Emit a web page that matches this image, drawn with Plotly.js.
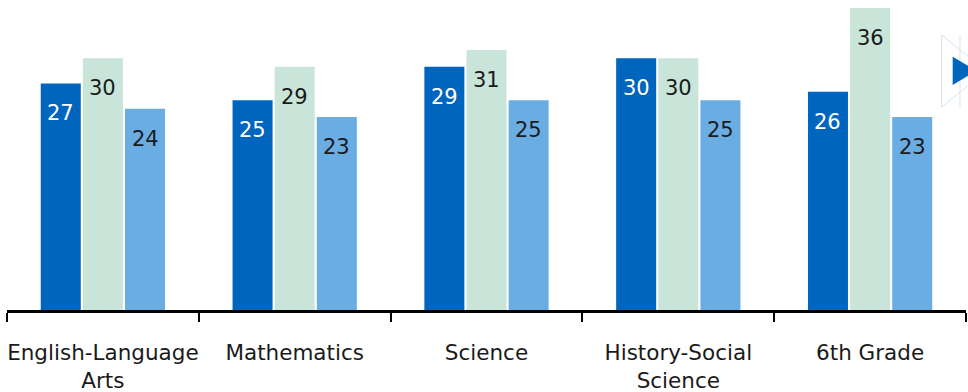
<!DOCTYPE html>
<html>
<head>
<meta charset="utf-8">
<script src="https://cdn.plot.ly/plotly-3.0.1.min.js"></script>
<style>html,body{margin:0;padding:0;background:#fff;}#chart{width:968px;height:392px;}</style>
</head>
<body>
<div id="chart"></div>
<script>
// ---- data ----
var categories = ["English-Language<br>Arts", "Mathematics", "Science", "History-Social<br>Science", "6th Grade"];
var seriesNames = ["School", "District", "State"];
var schoolValues = [27, 25, 29, 30, 26];
var districtValues = [30, 29, 31, 30, 36];
var stateValues = [24, 23, 25, 25, 23];

// ---- styles ----
var colors = ["#0065bd", "#c9e5da", "#6aade3"];
var labelColors = ["#ffffff", "#1a1a1a", "#1a1a1a"];
var W = 968, H = 392;
var M = {l: 7, r: 2, t: 0, b: 82};
var plotW = W - M.l - M.r, plotH = H - M.t - M.b;
var yMax = 36.95;
var FONT = "DejaVu Sans, Verdana, sans-serif";

var allSeries = [schoolValues, districtValues, stateValues];
var traces = allSeries.map(function (vals, i) {
  return {
    type: "bar",
    name: seriesNames[i],
    x: categories,
    y: vals,
    marker: {color: colors[i], line: {width: 0}},
    hoverinfo: "x+y+name",
    showlegend: false
  };
});

// value labels, placed inside each bar near its top
var catW = plotW / categories.length;
var slot = catW * (1 - 0.341) / 3;
var annotations = [];
allSeries.forEach(function (vals, i) {
  vals.forEach(function (v, j) {
    annotations.push({
      x: categories[j], y: v, xref: "x", yref: "y",
      text: String(v), showarrow: false,
      xshift: (i - 1) * slot, yshift: -30,
      xanchor: "center", yanchor: "middle",
      font: {family: FONT, size: 21, color: labelColors[i]}
    });
  });
});

// navigation arrow decoration (paper coords from pixels)
function px(x) { return (x - M.l) / plotW; }
function py(y) { return (H - M.b - y) / plotH; }
var shapes = [
  {type: "path", xref: "paper", yref: "paper",
   path: "M" + px(941.7) + "," + py(35) + " L" + px(941.7) + "," + py(107) +
         " M" + px(941.7) + "," + py(35) + " L" + px(975) + "," + py(62) +
         " M" + px(941.7) + "," + py(107) + " L" + px(975) + "," + py(80) +
         " M" + px(960) + "," + py(35) + " L" + px(960) + "," + py(107),
   line: {color: "#d5e3f1", width: 1}},
  {type: "path", xref: "paper", yref: "paper",
   path: "M" + px(952.7) + "," + py(56.7) + " L" + px(952.7) + "," + py(85) +
         " L" + px(976.5) + "," + py(70.8) + " Z",
   fillcolor: "#0065bd", line: {width: 0}}
];

var layout = {
  width: W, height: H,
  margin: M,
  paper_bgcolor: "#ffffff", plot_bgcolor: "#ffffff",
  barmode: "group", bargap: 0.341, bargroupgap: 0.05,
  font: {family: FONT, size: 21, color: "#1a1a1a"},
  xaxis: {
    type: "category",
    showline: true, linecolor: "#000000", linewidth: 3,
    ticks: "outside", tickson: "boundaries", ticklen: 9, tickwidth: 2, tickcolor: "#000000",
    tickangle: 0, ticklabelstandoff: 21,
    tickfont: {family: FONT, size: 21.5, color: "#1a1a1a"},
    showgrid: false, zeroline: false, fixedrange: true
  },
  yaxis: {
    range: [0, yMax], visible: false, showgrid: false, zeroline: false, fixedrange: true
  },
  annotations: annotations,
  shapes: shapes
};

Plotly.newPlot("chart", traces, layout, {displayModeBar: false, staticPlot: true});
</script>
</body>
</html>
